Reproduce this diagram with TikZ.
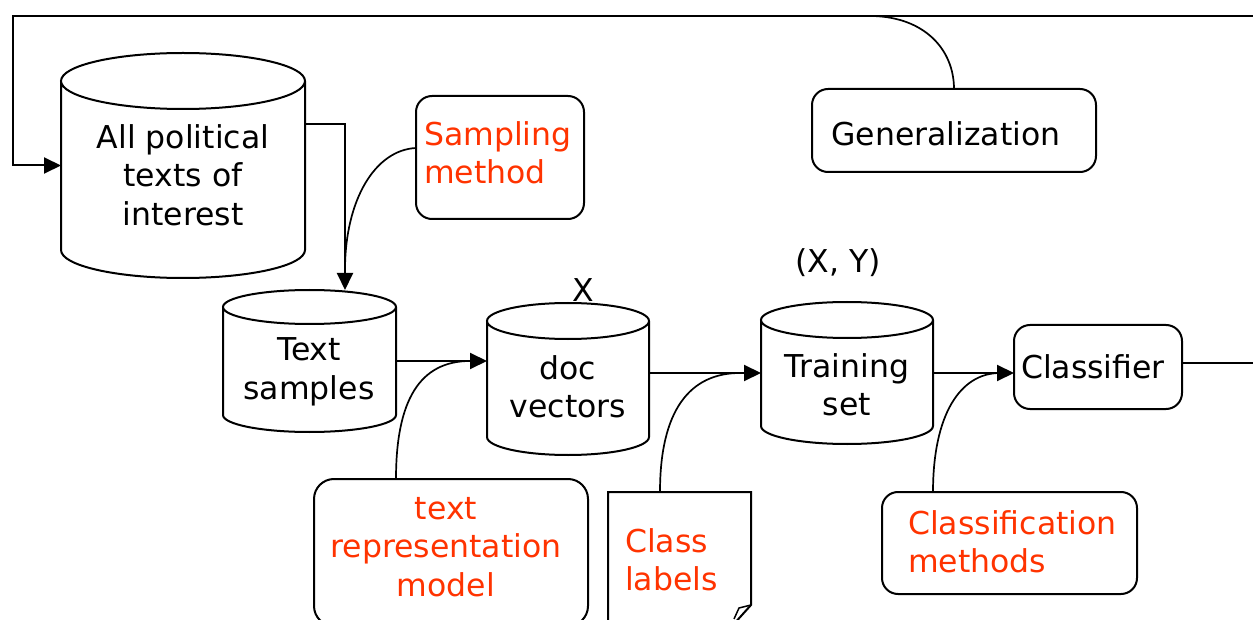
\documentclass[tikz,border=0pt]{standalone}
\usepackage{fontspec}
\setmainfont{DejaVu Sans}
\usetikzlibrary{arrows.meta,fit,calc}
\definecolor{notered}{RGB}{255,51,0}

\tikzset{
  shapebox/.style={draw=none, inner sep=0, outer sep=0},
  roundbox/.style={draw, line width=2, rounded corners=16, inner sep=0, outer sep=0},
  lbl/.style={font=\fontsize{31.5}{38.5}\selectfont, align=center, inner sep=0},
  note/.style={lbl, text=notered},
  outline/.style={line width=2},
  flow/.style={line width=2, -{Triangle[length=17,width=16]}},
  link/.style={line width=1.7},
}

% database cylinder: name, left, right, top, bottom, ellipse y radius
\newcommand\dbcyl[6]{%
  \node[shapebox, fit={(#2,-#4)(#3,-#5)}] (#1) {};
  \draw[outline] (#2,-#4-#6) -- (#2,-#5+#6)
    arc[start angle=180, end angle=360, x radius={(#3-#2)/2}, y radius=#6]
    -- (#3,-#4-#6)
    arc[start angle=0, end angle=180, x radius={(#3-#2)/2}, y radius=#6]
    arc[start angle=180, end angle=360, x radius={(#3-#2)/2}, y radius=#6];
}

\begin{document}
\begin{tikzpicture}[x=1pt, y=1pt]
\useasboundingbox (0,0) rectangle (1253,-620);
\clip (0,0) rectangle (1253,-620);

% data stores
\dbcyl{all}{61}{305}{53}{278}{28}
\dbcyl{ts}{223}{396}{290}{432}{17}
\dbcyl{doc}{487}{649}{303}{455}{18}
\dbcyl{train}{761}{933}{302}{444}{18}

\node[lbl] (allT) at (183,-175) {All political\\texts of\\interest};
\node[lbl] (tsT) at (309,-372) {Text\\samples};
\node[lbl] (docT) at (568,-387) {doc\\vectors};
\node[lbl] (trainT) at (847,-385) {Training\\set};
\node[lbl] (xLbl) at (583,-290) {X};
\node[lbl] (xyLbl) at (838,-263) {(X, Y)};

% process boxes
\node[roundbox, fit={(1014,-325)(1182,-409)}] (cls) {};
\node[lbl] (clsT) at (1093,-367) {Classifier};
\node[roundbox, fit={(812,-89)(1096,-172)}] (gen) {};
\node[lbl] (genT) at (946,-134) {Generalization};

% method boxes
\node[roundbox, fit={(416,-96)(584,-219)}] (sm) {};
\node[note, align=left, anchor=west] (smT) at (424,-153) {Sampling\\method};
\node[roundbox, rounded corners=20, fit={(314,-479)(588,-626)}] (trm) {};
\node[note] (trmT) at (446,-547) {text\\representation\\model};
\node[roundbox, fit={(882,-492)(1137,-594)}] (cm) {};
\node[note, align=left, anchor=west] (cmT) at (908,-542) {Classification\\methods};

% class labels document with curled corner
\node[shapebox, fit={(608,-492)(751,-630)}] (cl) {};
\draw[outline] (cl.south west) -- (cl.north west) -- (cl.north east) -- (751,-605) -- (733,-625);
\draw[line width=1.5] (751,-605) -- (739,-608) -- (734,-619);
\node[note, align=left, anchor=west] (clT) at (625,-560) {Class\\labels};

% main flow
\coordinate (loopR) at (1268,-16);
\coordinate (loopL) at (13,-16);
\draw[flow] ([yshift=4]cls.east) -- ([yshift=4]cls.east -| loopR) -- (loopR) -- (loopL) |- (all.west);
\draw[flow] ([yshift=41]all.east) -| ([xshift=35.5]ts.north);
\draw[flow] (ts.east) -- (ts.east -| doc.west);
\draw[flow] (doc.east |- train.west) -- (train.west);
\draw[flow] (train.east) -- (train.east -| cls.west);

% method links joining the flow
\coordinate (jSample) at (345,-270);
\draw[link] ([yshift=9.5]sm.west) .. controls (375,-150) and (345,-200) .. (jSample);
\coordinate (jRep) at (470,-361);
\draw[link] ([xshift=-55]trm.north) .. controls (396,-400) and (420,-361) .. (jRep);
\coordinate (jLab) at (740,-373);
\draw[link] ([xshift=-19.5]cl.north) .. controls (660,-410) and (690,-373) .. (jLab);
\coordinate (jMeth) at (1000,-373);
\draw[link] ([xshift=-76.5]cm.north) .. controls (933,-415) and (960,-373) .. (jMeth);
\coordinate (jGen) at (872,-16);
\draw[link] (gen.north) .. controls (954,-50) and (925,-17) .. (jGen);
\end{tikzpicture}
\end{document}
